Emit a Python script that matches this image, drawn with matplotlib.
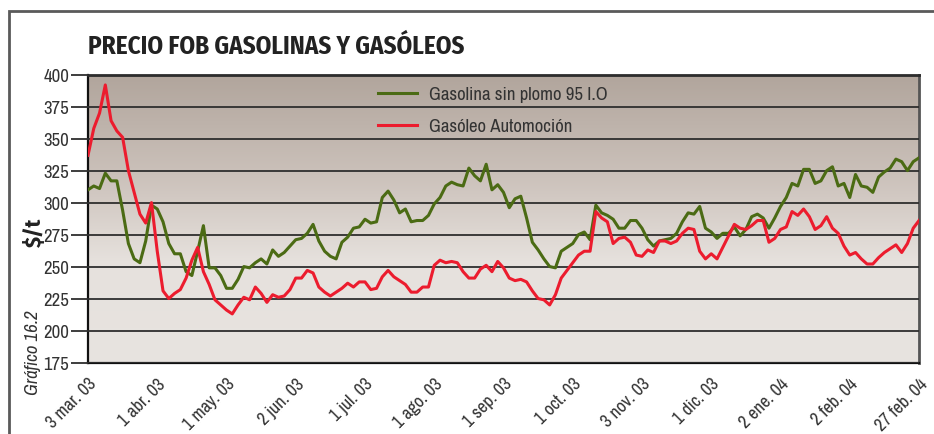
import numpy as np
import matplotlib
matplotlib.use("Agg")
import matplotlib.pyplot as plt
import matplotlib.transforms as mtransforms
from matplotlib.colors import LinearSegmentedColormap
from matplotlib.patches import Rectangle

plt.rcParams['font.family'] = ['Archivo Narrow', 'DejaVu Sans']
TITULO = ['Fira Sans Condensed', 'DejaVu Sans']

# Precios FOB ($/t), serie diaria 3 mar. 03 - 27 feb. 04
gasolina = [
    310, 313, 311, 323, 317, 317, 294, 268, 256, 253, 270, 298, 295, 285, 268, 260, 260, 246, 243, 262, 282, 249, 249, 243, 233,
    233, 240, 250, 249, 253, 256, 252, 263, 258, 261, 266, 271, 272, 276, 283, 270, 262, 258, 256, 269, 273, 280, 281, 287,
    284, 285, 304, 309, 302, 292, 295, 285, 286, 286, 290, 299, 304, 313, 316, 314, 313, 327, 321, 317, 330, 310, 314, 308, 296,
    303, 305, 288, 269, 263, 256, 250, 249, 262, 265, 268, 275, 277, 271, 298, 292, 290, 287, 280, 280, 286, 286, 280, 271,
    266, 270, 271, 272, 276, 285, 292, 291, 297, 280, 277, 272, 276, 276, 281, 274, 279, 289, 291, 288, 280, 288, 297, 304,
    315, 313, 326, 326, 315, 317, 325, 328, 313, 315, 304, 322, 313, 312, 308, 320, 324, 327, 334, 332, 325, 332, 335,
]
gasoleo = [
    337, 358, 370, 392, 364, 356, 351, 325, 308, 291, 284, 300, 262, 231, 225, 229, 232, 241, 255, 265, 246, 236, 224, 220, 216,
    213, 220, 226, 224, 234, 229, 222, 228, 226, 227, 232, 241, 241, 247, 245, 234, 230, 227, 230, 233, 237, 234, 238, 238,
    232, 233, 242, 247, 242, 239, 236, 230, 230, 234, 234, 251, 255, 253, 254, 253, 246, 241, 241, 248, 251, 246, 254, 249, 241,
    239, 240, 238, 231, 225, 224, 220, 228, 241, 247, 253, 259, 262, 262, 293, 288, 285, 268, 272, 273, 269, 259, 258, 263,
    261, 270, 270, 268, 270, 276, 280, 279, 262, 256, 260, 256, 265, 274, 283, 280, 279, 282, 286, 286, 269, 272, 279, 281,
    293, 290, 295, 289, 279, 282, 289, 280, 276, 266, 259, 261, 256, 252, 252, 257, 261, 264, 267, 261, 268, 280, 286,
]
fechas = ['3 mar. 03', '1 abr. 03', '1 may. 03', '2 jun. 03', '1 jul. 03', '1 ago. 03',
          '1 sep. 03', '1 oct. 03', '3 nov. 03', '1 dic. 03', '2 ene. 04', '2 feb. 04', '27 feb. 04']

x = np.arange(len(gasolina))
paso = (len(gasolina) - 1) // (len(fechas) - 1)

fig = plt.figure(figsize=(9.34, 4.35), dpi=100)
fig.patch.set_facecolor('white')

# marco exterior del gráfico
fig.patches.append(Rectangle((9 / 934, -0.1), 1.2, 0.1 + 1 - 12 / 435, transform=fig.transFigure,
                             fill=False, edgecolor='#5a5a5a', linewidth=2))

ax = fig.add_axes([88 / 934, 1 - 363.5 / 435, (919 - 88) / 934, (363.5 - 75.7) / 435])

# fondo degradado
fondo = LinearSegmentedColormap.from_list('fondo', [(0.0, '#e8e4e0'), (0.35, '#e6e1dd'),
                                                    (0.65, '#cbc1ba'), (1.0, '#b1a59c')])
grad = np.linspace(0, 1, 256).reshape(-1, 1)
ax.imshow(grad, cmap=fondo, origin='lower', aspect='auto',
          extent=[0, len(x) - 1, 175, 400], zorder=0)

ax.set_xlim(0, len(x) - 1)
ax.set_ylim(175, 400)
ax.set_yticks(np.arange(175, 401, 25))
ax.yaxis.grid(True, color='#2e2e2e', linewidth=1.3, zorder=1)
ax.set_axisbelow(False)

ax.plot(x, gasolina, color='#4b6b14', linewidth=2.2, label='Gasolina sin plomo 95 I.O', zorder=3)
ax.plot(x, gasoleo, color='#ec1c2e', linewidth=2.2, label='Gasóleo Automoción', zorder=3)

ax.set_xticks(x[::paso])
ax.set_xticklabels(fechas, rotation=45, ha='right', va='top', rotation_mode='anchor',
                   fontsize=13, color='#333333')
desplaza = mtransforms.ScaledTranslation(6 / 100, 0, fig.dpi_scale_trans)
for etiqueta in ax.get_xticklabels():
    etiqueta.set_transform(etiqueta.get_transform() + desplaza)
ax.tick_params(axis='x', length=0, pad=9)
ax.tick_params(axis='y', length=12, width=1.3, color='#2e2e2e', labelsize=13.5,
               labelcolor='#333333', pad=1.5)

for lado in ['left', 'bottom']:
    ax.spines[lado].set_color('#111111')
    ax.spines[lado].set_linewidth(1.6)
ax.spines['top'].set_color('#2a2a2a')
ax.spines['top'].set_linewidth(2)
ax.spines['right'].set_color('#555555')
ax.spines['right'].set_linewidth(2)

ax.legend(loc='upper left', bbox_to_anchor=(378 / 934, 1 - 87 / 435), bbox_transform=fig.transFigure,
          frameon=False, fontsize=13.5, handlelength=2.1, handletextpad=0.6, labelspacing=0.85,
          labelcolor='#333333', borderaxespad=0, borderpad=0)

fig.text(88 / 934, 1 - 47 / 435, 'PRECIO FOB GASOLINAS Y GASÓLEOS', fontsize=18,
         fontweight='bold', color='#222222', ha='left', va='center', family=TITULO)
fig.text(34 / 934, 1 - 232 / 435, '$/t', fontsize=16, fontweight='bold', color='#222222',
         rotation=90, ha='center', va='center', family=TITULO)
fig.text(33 / 934, 1 - 353 / 435, 'Gráfico 16.2', fontsize=13.5, style='italic', color='#333333',
         rotation=90, ha='center', va='center')

fig.savefig('out.png', dpi=100)
